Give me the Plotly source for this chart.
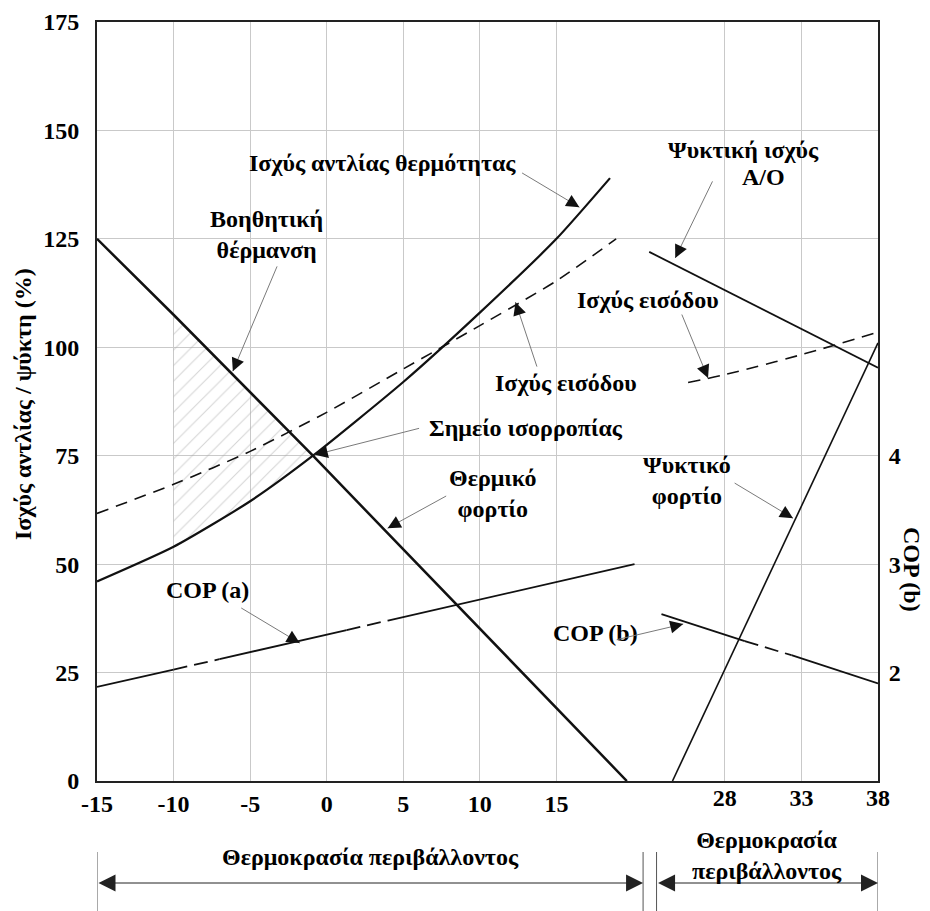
import math
import plotly.graph_objects as go

# ---------------- data ----------------
HEAT_TICKS = [-15, -10, -5, 0, 5, 10, 15]
HEAT_TICK_TEXT = ["-15", "-10", "-5", "0", "5", "10", "15"]
COOL_TICKS = [28, 33, 38]
Y_TICKS = [0, 25, 50, 75, 100, 125, 150, 175]
COP_TICKS = [2, 3, 4]

# heating side (x = ambient temperature, y = %)
heat_load_t = [-15, -10, -0.9, 19.6]
heat_load_v = [125, 107.5, 75, 0]

hp_cap_t = [-15, -10, -5, -0.9, 5, 10, 15, 18.5]
hp_cap_v = [46, 54, 64.5, 75, 92, 108, 125, 139]

hp_in_t = [-15, -10, -5, 0, 5, 10, 15, 18.9]
hp_in_v = [61.7, 68.4, 76, 85, 95, 105, 115.3, 125]

cop_a_t = [-15, -10, -7, 1.3, 4, 20.1]
cop_a_v = [21.7, 25.7, 28.1, 34.8, 37.0, 50.0]

balance_t = -0.9
aux_start_t = -10

# cooling side
cool_cap_t = [23.06, 38]
cool_cap_v = [122, 95.3]

cool_in_t = [25.6, 28, 33, 38]
cool_in_v = [91.9, 93.7, 98.3, 103.5]

cool_load_t = [24.58, 38]
cool_load_v = [0, 101]

cop_b_t = [23.86, 29.3, 32.35, 38]
cop_b_v = [2.54, 2.29, 2.16, 1.9]

# segment styles (True = dashed)
cop_a_dashed = [False, True, False, True, False]
cop_b_dashed = [False, True, False]

# ---------------- helpers ----------------
NUMFONT = "Liberation Serif"
TXTFONT = "Liberation Serif, DejaVu Serif, serif"
BLACK = "#111111"
GRID = "#c9c9c9"

X_RANGE = [-15, 36]
X2_RANGE = [-13, 38]
Y_RANGE = [0, 175]
Y2_RANGE = [1, 8]


def split(t, v, flags, want):
    xs, ys = [], []
    for i, f in enumerate(flags):
        if f == want:
            xs += [t[i], t[i + 1], None]
            ys += [v[i], v[i + 1], None]
    return xs, ys


fig = go.Figure()

# hatched auxiliary heating area
poly_t, poly_v = [], []
for t, v in zip(heat_load_t, heat_load_v):
    if aux_start_t <= t <= balance_t:
        poly_t.append(t); poly_v.append(v)
for t, v in reversed(list(zip(hp_cap_t, hp_cap_v))):
    if aux_start_t <= t <= balance_t:
        poly_t.append(t); poly_v.append(v)
fig.add_trace(go.Scatter(
    x=poly_t, y=poly_v, mode="lines", fill="toself",
    line=dict(width=0, color="rgba(0,0,0,0)"),
    fillcolor="rgba(0,0,0,0)",
    fillpattern=dict(shape="/", fgcolor="#a8a8a8", size=11, solidity=0.09),
    hoverinfo="skip"))

# heating curves
fig.add_trace(go.Scatter(x=hp_in_t, y=hp_in_v, mode="lines",
                         line=dict(color=BLACK, width=1.6, dash="12px,8px", shape="spline", smoothing=0.6)))
fig.add_trace(go.Scatter(x=hp_cap_t, y=hp_cap_v, mode="lines",
                         line=dict(color=BLACK, width=2.2, shape="spline", smoothing=0.6)))
fig.add_trace(go.Scatter(x=heat_load_t, y=heat_load_v, mode="lines",
                         line=dict(color=BLACK, width=2.5)))

xs, ys = split(cop_a_t, cop_a_v, cop_a_dashed, False)
fig.add_trace(go.Scatter(x=xs, y=ys, mode="lines", line=dict(color=BLACK, width=1.8)))
xs, ys = split(cop_a_t, cop_a_v, cop_a_dashed, True)
fig.add_trace(go.Scatter(x=xs, y=ys, mode="lines", line=dict(color=BLACK, width=1.8, dash="14px,7px")))

# cooling curves
fig.add_trace(go.Scatter(x=cool_cap_t, y=cool_cap_v, xaxis="x2", yaxis="y", mode="lines",
                         line=dict(color=BLACK, width=1.8)))
fig.add_trace(go.Scatter(x=cool_in_t, y=cool_in_v, xaxis="x2", yaxis="y", mode="lines",
                         line=dict(color=BLACK, width=1.6, dash="12px,8px", shape="spline")))
fig.add_trace(go.Scatter(x=cool_load_t, y=cool_load_v, xaxis="x2", yaxis="y", mode="lines",
                         line=dict(color=BLACK, width=1.6)))
xs, ys = split(cop_b_t, cop_b_v, cop_b_dashed, False)
fig.add_trace(go.Scatter(x=xs, y=ys, xaxis="x2", yaxis="y2", mode="lines",
                         line=dict(color=BLACK, width=1.8)))
xs, ys = split(cop_b_t, cop_b_v, cop_b_dashed, True)
fig.add_trace(go.Scatter(x=xs, y=ys, xaxis="x2", yaxis="y2", mode="lines",
                         line=dict(color=BLACK, width=1.8, dash="14px,7px")))

# ---------------- layout ----------------
TF = dict(family=NUMFONT, size=24, color="black", weight="bold")
AF = dict(family=TXTFONT, size=24, color="black", weight="bold")

# the page body has an 8px margin; plot area should sit at 97..878 x 22..781 on the page
OFF = 8
W, H = 930 - OFF, 911 - OFF
ML, MR, MT, MB = 97 - OFF, 52, 22 - OFF, 130
PW, PH = W - ML - MR, H - MT - MB

common_x = dict(showgrid=True, gridcolor=GRID, gridwidth=1, zeroline=False,
                ticks="", tickfont=TF)

fig.update_layout(
    width=W, height=H,
    margin=dict(l=ML, r=MR, t=MT, b=MB, autoexpand=False),
    plot_bgcolor="white", paper_bgcolor="white", showlegend=False,
    xaxis=dict(range=X_RANGE, tickvals=HEAT_TICKS, ticktext=HEAT_TICK_TEXT, showline=True, mirror=True,
               linecolor="#222", linewidth=2, **common_x),
    xaxis2=dict(range=X2_RANGE, tickvals=COOL_TICKS, overlaying="x", side="bottom",
                anchor="y", showline=False, **common_x),
    yaxis=dict(range=Y_RANGE, tickvals=Y_TICKS, showgrid=True, gridcolor=GRID, gridwidth=1,
               zeroline=False, showline=True, mirror=True, linecolor="#222", linewidth=2,
               ticks="outside", ticklen=11, tickcolor="rgba(0,0,0,0)", tickfont=TF),
    yaxis2=dict(range=Y2_RANGE, tickvals=COP_TICKS, overlaying="y", side="right", anchor="x",
                showgrid=False, zeroline=False, showline=False,
                ticks="outside", ticklen=5, tickcolor="rgba(0,0,0,0)", tickfont=TF),
)


def px_x(p):
    return (p - 97) / PW


def px_y(p):
    return (781 - p) / PH


ann = []
# text labels (xref, x, y, text)
labels = [
    ("x", 3.65, 142.5, "Ισχύς αντλίας θερμότητας"),
    ("x", -3.9, 126, "Βοηθητική<br>θέρμανση"),
    ("x", 13.0, 81.4, "Σημείο ισορροπίας"),
    ("x", 10.8, 66.4, "Θερμικό<br>φορτίο"),
    ("x", 15.6, 91.8, "Ισχύς εισόδου"),
    ("x", -7.76, 44, "COP (a)"),
    ("x2", 29.19, 145.5, "Ψυκτική ισχύς"),
    ("x2", 30.5, 139.3, "A/O"),
    ("x2", 23.0, 110.9, "Ισχύς εισόδου"),
    ("x2", 25.55, 69.2, "Ψυκτικό<br>φορτίο"),
    ("x2", 19.54, 34.1, "COP (b)"),
]
for xr, x, y, txt in labels:
    ann.append(dict(xref=xr, yref="y", x=x, y=y, text=txt, showarrow=False, font=AF,
                    xanchor="center", yanchor="middle"))

# pointer arrows (xref, tail, tip): thin grey shaft + black head
arrows = [
    ("x", (12.66, 140.4), (16.5, 132.3)),
    ("x", (-3.2, 119), (-6.13, 94.5)),
    ("x", (6.13, 81.4), (-0.78, 75.2)),
    ("x", (7.9, 65.9), (3.98, 58.3)),
    ("x", (13.76, 95.2), (12.33, 110.4)),
    ("x", (-5.68, 40.1), (-1.76, 31.8)),
    ("x2", (27.24, 138.6), (24.76, 120.6)),
    ("x2", (25.15, 107.9), (26.9, 92.9)),
    ("x2", (28.54, 68.9), (32.45, 60.6)),
    ("x2", (20.84, 32.5), (25.28, 36.2)),
]
sx = PW / (X_RANGE[1] - X_RANGE[0])   # px per degree (same on both x axes)
sy = PH / (Y_RANGE[1] - Y_RANGE[0])   # px per % unit
HEAD = 13
for xr, tail, tip in arrows:
    ann.append(dict(xref=xr, yref="y", axref=xr, ayref="y", x=tip[0], y=tip[1],
                    ax=tail[0], ay=tail[1], text="", showarrow=True,
                    arrowhead=0, arrowwidth=1, arrowcolor="#7a7a7a", standoff=0))
    dxp = (tip[0] - tail[0]) * sx
    dyp = -(tip[1] - tail[1]) * sy
    L = math.hypot(dxp, dyp)
    ann.append(dict(xref=xr, yref="y", x=tip[0], y=tip[1],
                    ax=-dxp / L * HEAD, ay=-dyp / L * HEAD, text="", showarrow=True,
                    arrowhead=2, arrowsize=2.6, arrowwidth=1, arrowcolor="#111", standoff=0))

# axis titles
ann.append(dict(xref="paper", yref="paper", x=px_x(23), y=px_y(404), xanchor="center", yanchor="middle",
                text="Ισχύς αντλίας / ψύκτη (%)", textangle=-90, showarrow=False, font=AF))
ann.append(dict(xref="paper", yref="paper", x=px_x(912), y=px_y(569), xanchor="center", yanchor="middle",
                text="COP (b)", textangle=90, showarrow=False, font=AF))

# bottom range brackets
shapes = []
for xr, xv in [("x", -15), ("x", 20.66), ("x2", 23.54), ("x2", 38)]:
    shapes.append(dict(type="line", xref=xr, yref="paper", x0=xv, x1=xv, y0=px_y(852), y1=px_y(915),
                       line=dict(color="#555", width=1)))
ann.append(dict(xref="x", yref="paper", axref="x", ayref="pixel", x=20.66, y=px_y(883), ax=-15, ay=0,
                text="", showarrow=True, arrowside="end+start", arrowhead=2, arrowsize=3.4,
                arrowwidth=1, arrowcolor="#222", standoff=0))
ann.append(dict(xref="x2", yref="paper", axref="x2", ayref="pixel", x=38, y=px_y(883), ax=23.54, ay=0,
                text="", showarrow=True, arrowside="end+start", arrowhead=2, arrowsize=3.4,
                arrowwidth=1, arrowcolor="#222", standoff=0))
ann.append(dict(xref="x", yref="paper", x=2.87, y=px_y(857), xanchor="center", yanchor="middle",
                text="Θερμοκρασία περιβάλλοντος", showarrow=False, font=AF))
ann.append(dict(xref="x2", yref="paper", x=30.76, y=px_y(855.5), xanchor="center", yanchor="middle",
                text="Θερμοκρασία<br>περιβάλλοντος", showarrow=False, font=AF))

fig.update_layout(annotations=ann, shapes=shapes)

fig.write_html("out.html")
